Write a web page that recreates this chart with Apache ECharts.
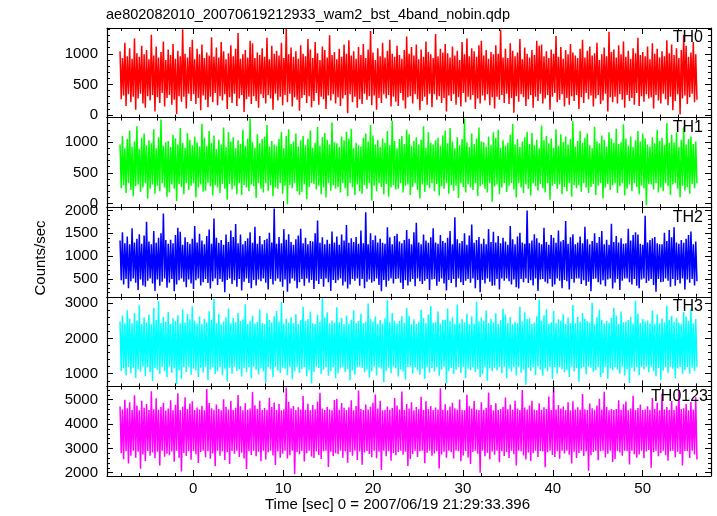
<!DOCTYPE html>
<html>
<head>
<meta charset="utf-8">
<script src="https://cdn.jsdelivr.net/npm/echarts@6/dist/echarts.min.js"></script>
<style>html,body{margin:0;padding:0;background:#fff}#c{width:717px;height:516px}</style>
</head>
<body>
<div id="c"></div>
<script>
// ---------------- data ----------------
const chartTitle = 'ae802082010_20070619212933_wam2_bst_4band_nobin.qdp';
const xTitle = 'Time [sec] 0 = 2007/06/19 21:29:33.396';
const yTitle = 'Counts/sec';
const bandNames = ['TH0', 'TH1', 'TH2', 'TH3', 'TH0123'];
const timeStart = -8.15;   // sec, first sample
const timeStep = 0.134;    // sec per sample (display resolution)
const xMajorTicks = [0, 10, 20, 30, 40, 50];
const yMajorTicks = [[0, 500, 1000], [0, 500, 1000], [500, 1000, 1500, 2000], [1000, 2000, 3000], [2000, 3000, 4000, 5000]];

const th0 = [
1040,260,930,320,1180,150,960,340,1090,210, 920,300,1250,90,1010,270,950,350,1130,190,
990,120,1060,310,910,240,1310,330,970,60, 1120,290,940,200,1030,360,1200,140,900,280,
1070,330,980,170,1160,250,920,20,1050,310, 960,220,1400,300,1000,110,940,350,1110,230,
1230,340,910,180,1080,280,990,80,1150,320, 930,250,1020,130,970,300,1270,210,950,360,
1100,160,940,310,1190,240,1040,340,910,100, 1010,290,1140,200,960,350,1080,150,1340,270,
920,330,990,50,1060,260,940,300,1210,180, 1170,310,930,230,1020,120,980,340,1090,280,
950,190,1260,330,910,270,1130,90,1000,350, 1050,240,970,300,1180,160,930,330,1410,210,
990,350,1100,140,950,290,1040,250,920,70, 1140,280,1000,330,960,200,1240,310,1070,130,
930,230,1190,360,1010,170,900,300,1120,260, 1060,100,940,320,1300,240,980,340,1030,190,
910,290,1080,150,950,270,1150,330,1000,30, 1220,340,970,210,1040,300,920,120,1110,260,
980,180,1160,350,930,250,1070,310,1370,160, 1020,320,900,90,1090,280,960,200,1180,340,
940,270,1050,330,1230,140,1000,300,950,220, 1130,150,980,360,920,240,1060,110,1280,290,
1000,310,1110,190,970,340,1150,260,910,80, 1070,230,950,300,1200,170,1030,350,990,130,
930,340,1320,250,960,310,1080,200,1020,280, 1160,60,1010,320,940,230,1120,340,970,170,
1050,290,900,140,1190,360,990,210,1250,300, 960,250,1090,330,1040,100,950,270,1140,190,
1210,320,970,240,1060,340,920,160,1030,290, 990,110,1140,300,1000,250,1390,330,940,200,
1080,350,930,180,1170,280,1050,40,960,310, 1020,220,1240,340,910,290,1100,150,1000,260,
940,330,1060,120,980,300,1210,230,1130,350, 1150,190,960,270,1040,330,930,90,1070,300,
1000,360,1290,210,950,250,1110,340,920,140, 1060,280,990,170,1160,310,1020,230,970,330,
930,100,1080,290,1230,200,940,360,1050,260, 1120,320,970,140,1010,270,1180,330,900,180,
990,240,1100,350,960,60,1360,290,1030,210, 1070,300,940,190,1140,340,990,250,1200,120,
950,330,1050,230,920,280,1090,170,1010,360, 1260,150,980,310,1030,220,960,340,1120,270,
910,290,1170,110,1000,330,1080,240,940,190, 1040,350,960,260,1220,160,1010,300,1150,80,
980,230,1090,340,930,10,1060,270,1310,320, 1130,180,950,290,1020,350,1190,210,990,250
];
const th1 = [
960,250,1100,300,900,170,1050,330,1190,220, 930,120,1010,280,1260,310,890,190,1070,260,
1140,330,950,80,1030,240,980,310,1210,160, 900,290,1080,200,1370,330,940,260,1000,110,
1020,180,920,310,1120,240,1060,40,960,320, 1230,270,990,150,910,330,1150,220,1040,290,
950,330,1090,100,1000,260,930,310,1300,190, 1070,210,940,340,1180,280,990,130,1110,300,
890,260,1040,170,960,320,1240,240,920,60, 1160,320,1010,230,1080,290,900,150,1030,330,
970,140,1200,300,940,260,1060,200,1390,310, 1000,280,910,90,1130,330,980,240,1050,180,
1090,330,1280,210,930,300,1020,120,960,260, 940,240,1050,330,1170,160,900,290,1100,-10,
1210,300,970,250,1010,330,1140,200,930,140, 1030,190,1100,310,950,70,1060,270,1190,330,
910,320,990,230,1250,290,940,150,1080,260, 1150,100,1040,330,960,210,1320,300,1000,240,
980,270,920,180,1090,330,1030,250,1170,120, 1060,330,1220,260,900,140,990,310,950,200,
930,160,1070,300,1140,240,1010,330,1280,50, 1110,290,960,200,1040,330,920,270,1060,150,
990,320,1180,110,950,260,1350,300,1020,230, 900,240,1050,330,1100,180,970,290,1200,310,
1130,140,940,270,1020,330,1080,220,960,80, 1040,310,1260,190,910,300,1160,250,990,330,
960,200,1030,320,1070,130,940,280,1110,240, 1190,330,980,160,1230,300,1010,210,900,290,
1080,90,950,330,1050,270,1380,180,1000,310, 920,260,1140,220,970,330,1060,120,1240,280,
1010,310,1000,240,930,180,1090,330,950,30, 1160,280,1070,310,1200,150,910,260,1030,330,
940,190,990,290,1120,330,1300,230,960,100, 1050,330,920,260,1010,170,1080,310,1170,240,
970,130,1150,330,950,280,1040,210,900,320, 1270,250,1030,180,1100,330,980,60,1060,290,
910,320,1210,240,940,310,1130,150,1000,270, 1090,200,960,330,1050,110,1340,300,930,250,
1020,300,1180,190,990,330,1070,260,1140,170, 950,270,900,320,1250,140,1010,290,980,330,
1110,80,1040,260,930,320,1160,220,1060,300, 990,330,1220,170,970,280,1000,330,1290,130,
1060,240,940,310,1090,200,920,330,1030,270, 1180,150,1010,290,1140,250,1060,-30,960,320,
930,310,1080,230,980,330,1200,180,1020,260, 1070,200,950,330,1310,280,990,140,1120,310,
1000,330,1160,240,920,100,1040,290,1250,210, 960,270,1050,160,1090,320,970,250,1010,330
];
const th2 = [
1340,470,1520,380,1280,500,1430,300,1260,450, 1610,510,1300,420,1380,260,1480,490,1270,360,
1450,330,1750,460,1320,510,1260,400,1550,240, 1290,490,1400,350,1500,440,1930,510,1350,310,
1270,420,1360,500,1280,230,1460,380,1620,470, 1530,510,1250,440,1410,320,1310,490,1270,400,
1380,280,1660,470,1300,510,1490,360,1340,430, 1260,500,1440,410,1580,290,1270,450,1820,510,
1400,370,1290,500,1350,440,1250,210,1470,480, 1310,510,1560,390,1420,470,1700,330,1280,500,
1470,250,1260,440,1330,510,1390,410,1520,300, 1290,480,1640,360,1270,490,1440,450,1260,510,
1350,420,1380,270,1510,500,1300,380,2040,460, 1270,510,1420,440,1280,330,1590,490,1360,220,
1480,400,1310,510,1250,460,1370,300,1450,430, 1600,500,1280,350,1400,510,1260,420,1330,480,
1320,280,1500,460,1780,390,1290,500,1410,330, 1260,510,1360,430,1270,240,1540,480,1300,410,
1430,470,1250,510,1470,360,1340,440,1680,290, 1290,380,1390,500,1310,460,1420,510,1270,350,
1560,500,1280,300,1960,440,1260,490,1500,420, 1350,450,1450,510,1300,370,1380,230,1290,480,
1270,330,1630,460,1410,510,1260,400,1440,500, 1490,510,1320,420,1280,280,1350,470,1570,360,
1380,440,1260,500,1520,340,1730,510,1300,450, 1260,390,1470,460,1340,500,1290,260,1410,490,
1610,500,1300,350,1270,440,1460,510,1330,400, 1290,250,1400,480,1550,410,1260,500,1850,320,
1370,510,1280,430,1330,370,1500,460,1250,500, 1450,420,1690,510,1290,300,1350,480,1420,210,
1270,480,1380,400,1260,510,1590,440,1310,350, 1530,360,1300,500,1440,270,1280,510,1400,460,
1320,510,1250,450,1660,380,1370,490,1260,320, 1430,290,1510,500,1300,430,1270,510,2000,410,
1280,470,1340,360,1480,510,1390,240,1290,490, 1260,500,1620,440,1310,400,1250,500,1460,330,
1400,380,1290,510,1560,460,1320,300,1350,480, 1770,450,1270,270,1410,500,1480,420,1260,510,
1300,510,1430,390,1280,470,1640,350,1370,440, 1260,230,1330,500,1500,510,1290,430,1420,380,
1550,470,1260,340,1360,490,1250,510,1710,290, 1310,420,1440,500,1300,260,1390,460,1270,510,
1280,510,1600,430,1340,380,1460,500,1520,350, 1470,300,1270,490,1250,510,1880,410,1300,460,
1350,500,1390,370,1420,220,1280,500,1260,430, 1260,440,1510,510,1330,460,1570,330,1410,500,
1630,350,1300,480,1270,400,1350,510,1290,270, 1380,490,1460,420,1540,500,1260,360,1320,450
];
const th3 = [
2480,1080,2650,1150,2420,950,2800,1190,2560,1010, 2430,1170,2720,880,2510,1120,2940,1060,2410,1200,
2590,930,2460,1180,2680,1040,2400,790,2870,1160, 2520,1110,3060,990,2440,1200,2610,1070,2470,900,
2750,1190,2410,1020,2570,1150,2490,700,2660,1100, 2430,860,2830,1180,2450,1050,2700,1200,2540,970,
2910,1140,2500,1090,2420,910,2620,1170,2410,1030, 2560,1200,2460,820,2770,1120,2530,1180,3120,990,
2440,1060,2690,1190,2400,960,2480,1140,2600,780, 2850,1170,2430,1000,2580,1200,2460,1080,2730,1130,
2490,920,2540,1160,2970,1040,2410,1190,2500,870, 2640,1200,2420,1110,2470,980,2820,1150,2440,1060,
2410,750,2710,1180,2530,1130,2450,900,2630,1200, 2780,1090,2480,1020,3030,1170,2420,1140,2560,960,
2450,1190,2600,840,2440,1070,2690,1200,2410,1010, 2520,1130,2900,1180,2490,930,2550,1100,2760,720,
2430,1050,2410,1200,2670,1160,2470,990,3150,1120, 2590,1180,2740,940,2420,1080,2510,1190,2450,870,
2880,1010,2460,1150,2580,1200,2400,1050,2650,1130, 2410,810,2530,1090,2800,970,2440,1180,2490,1200,
2700,1160,2430,1040,2470,1120,2990,890,2560,1070, 2480,1200,2620,950,2410,1190,2520,1140,2430,760,
2570,1080,3080,1170,2460,1010,2720,1200,2500,1150, 2420,920,2490,1120,2630,1060,2450,830,2860,1190,
2640,1200,2400,1000,2540,1180,2410,1100,2470,970, 2810,1140,2580,860,2440,1200,2680,1030,2920,1160,
2450,1060,2470,1190,2760,940,2420,1120,2530,1200, 2530,730,2850,1080,2490,1170,2600,990,2410,1110,
2960,1190,2430,1020,2550,1200,2460,880,2700,1150, 2400,1100,2620,1180,2420,1050,3040,1130,2480,910,
2590,990,2500,1200,2790,800,2440,1160,2560,1070, 2460,1170,2710,1090,2410,1190,2520,1010,2840,1200,
2680,870,2440,1140,2610,1060,2400,1180,2470,950, 2430,1200,2900,1030,2480,1120,2740,690,2550,1170,
2570,1080,2410,1190,2450,960,2630,1200,3100,1110, 2500,940,2660,1150,2830,1070,2420,1190,2460,850,
2780,1190,2430,1000,2540,1180,2500,1130,2690,1040, 2410,1110,2590,910,2440,1200,2950,1060,2430,1160,
2620,770,2470,1140,2720,1190,2560,980,2490,1200, 2450,1170,3010,1050,2400,1100,2600,1180,2810,900,
2530,1020,2420,1200,2490,860,2440,1150,2580,1090, 2870,1180,2650,1110,2410,1000,2760,1200,2460,950,
2480,1130,2520,740,2610,1170,2420,1060,3070,1190, 2700,960,2440,1190,2550,1120,2470,1200,2510,1040,
2430,1200,2790,1070,2400,930,2680,1160,2440,820, 2560,1090,2460,1180,2930,1030,2520,1200,2640,1140,
2470,870,2580,1150,2450,1190,2410,990,2750,1100, 2620,1190,2500,1000,2840,1170,2430,1080,2550,1200
];
const th0123 = [
4720,2800,4600,2550,5000,2880,4650,2380,4890,2700, 4580,2900,5180,2620,4760,2860,4560,2160,4950,2750,
4670,2480,4820,2890,4570,2700,5350,2830,4610,2590, 5060,2860,4590,2300,4700,2900,4870,2660,4550,2780,
4640,2720,4980,2870,4560,2450,4790,2900,5260,2610, 4580,2050,4710,2810,5100,2690,4620,2880,4840,2530,
4930,2890,4570,2760,4680,2400,4600,2850,4750,2900, 4560,2640,5440,2880,4860,2570,4650,2790,4590,2270,
4800,2900,4620,2700,4560,2870,5020,2520,4710,2840, 4600,2360,4940,2890,4580,2780,4670,2900,5190,2650,
4730,2820,4560,2580,4850,2150,4590,2880,4640,2730, 5310,2900,4770,2680,4620,2860,4960,2470,4570,2900,
4660,2540,4590,2840,5080,2900,4700,2710,4880,2320, 4580,2870,4820,2620,4560,2780,4610,2900,5500,2580,
4910,2720,4650,2900,4740,1950,4570,2850,4690,2760, 4600,2890,5150,2460,4580,2800,4830,2900,4560,2670,
4780,2600,4610,2870,4920,2730,5280,2560,4640,2880, 4570,2900,4700,2240,4600,2860,4560,2690,4990,2800,
5040,2760,4590,2900,4860,2620,4670,2880,4580,2410, 4690,2850,4980,2700,4560,2900,4740,2520,5380,2870,
4620,2330,4570,2830,4800,2890,4600,2770,4710,2640, 4870,2900,5210,2590,4640,2860,4950,2110,4560,2900,
4580,2680,4720,2880,4590,2490,4660,2810,5070,2720, 4760,2850,4600,2900,5330,2740,4570,2860,4820,2280,
4640,2560,4890,2770,4560,2900,4700,2650,4610,2880, 5120,2900,4580,2390,4930,2820,4620,2900,4740,2700,
4570,2790,4680,2880,4600,2170,5470,2750,4590,2860, 4810,2620,4560,2900,4720,2840,4870,2580,4650,2900,
4600,2880,5010,2470,4580,2710,4560,2890,5200,2630, 4730,2360,4640,2850,4940,2900,4600,2780,4570,2000,
4890,2900,4590,2680,4660,2820,5290,2550,4780,2870, 4560,2740,4850,2900,4570,2430,4620,2880,4700,2690,
5090,2850,4610,2600,4800,2900,4590,2760,4960,2300, 4640,2900,4570,2880,5400,2710,4680,2540,4600,2830,
4760,2480,4960,2800,4600,2900,4560,2650,4850,2890, 4580,2870,4690,2220,4620,2840,5130,2900,4570,2730,
5520,2650,4600,2880,4780,2570,4640,2900,4720,2790, 4570,2900,4890,2740,4560,2380,4930,2860,4600,2600,
4690,2810,4580,2900,5230,2690,4610,2870,4570,2080, 4840,2720,4650,2850,4590,2900,4760,2510,5040,2880,
4600,2900,5320,2630,4700,2780,4560,2900,4620,2440, 4570,2560,4620,2890,4980,2830,4590,2700,4810,2900,
4920,2880,4560,2340,4640,2900,5160,2760,4580,2620, 4660,2750,4800,2900,4570,2590,4600,2870,4730,2930,
4590,2200,5070,2840,4620,2900,4870,2680,4560,2810, 5250,2900,4600,2720,4700,2490,4580,2880,4940,2900,
4570,2640,4750,2860,5410,2770,4620,2300,4650,2890, 4830,2880,4560,2610,4910,2900,4600,2750,5100,2540
];
const bandValues = [th0, th1, th2, th3, th0123];

// ---------------- layout / style ----------------
const colors = ['#ff0000', '#00ff00', '#0000ff', '#00ffff', '#ff00ff'];
const yMin = [-40, -60, 110, 640, 1865];
const yMax = [1420, 1400, 2070, 3180, 5545];
const yMinorStep = [100, 100, 100, 200, 200];
const X_MIN = -9.6, X_MAX = 57.6, X_MINOR_STEP = 2;
const FONT = '"Liberation Sans", Arial, Helvetica, sans-serif';
const GRID_LEFT = 107, GRID_RIGHT = 6, GRID_TOP0 = 28, PANEL_H = 89.6;

function range(a, b, s) { const r = []; for (let v = a; v <= b + 1e-9; v += s) r.push(Math.round(v * 1000) / 1000); return r; }
const xMinorTicks = range(Math.ceil(X_MIN / X_MINOR_STEP) * X_MINOR_STEP, X_MAX, X_MINOR_STEP);
const plain = v => String(v);

const grids = [], xAxes = [], yAxes = [], series = [], graphics = [];
const black = '#000';
for (let i = 0; i < 5; i++) {
  const top = GRID_TOP0 + i * PANEL_H;
  grids.push({ left: GRID_LEFT, right: GRID_RIGHT, top: top, height: PANEL_H, containLabel: false });
  const last = i === 4;
  const mkX = (pos, major) => ({
    type: 'value', gridIndex: i, position: pos, min: X_MIN, max: X_MAX,
    axisLine: { show: major, onZero: false, lineStyle: { color: black, width: 1.2 } },
    axisTick: { show: true, inside: true, length: major ? 6 : 3, customValues: major ? xMajorTicks : xMinorTicks, lineStyle: { color: black, width: 1 } },
    axisLabel: { show: last && pos === 'bottom' && major, customValues: xMajorTicks, formatter: plain, color: black, fontSize: 15, fontFamily: FONT, margin: 5 },
    splitLine: { show: false }, z: 5
  });
  xAxes.push(mkX('bottom', true), mkX('bottom', false), mkX('top', true), mkX('top', false));
  const yMinor = range(Math.ceil(yMin[i] / yMinorStep[i]) * yMinorStep[i], yMax[i], yMinorStep[i]);
  const mkY = (pos, major) => ({
    type: 'value', gridIndex: i, position: pos, min: yMin[i], max: yMax[i],
    axisLine: { show: major, onZero: false, lineStyle: { color: black, width: 1.2 } },
    axisTick: { show: true, inside: true, length: major ? 6 : 3, customValues: major ? yMajorTicks[i] : yMinor, lineStyle: { color: black, width: 1 } },
    axisLabel: { show: pos === 'left' && major, customValues: yMajorTicks[i], formatter: plain, color: black, fontSize: 15, fontFamily: FONT, margin: 9 },
    splitLine: { show: false }, z: 5
  });
  yAxes.push(mkY('left', true), mkY('left', false), mkY('right', true), mkY('right', false));
  series.push({
    name: bandNames[i], type: 'line', step: 'end', xAxisIndex: 4 * i, yAxisIndex: 4 * i,
    data: bandValues[i].map((v, k) => [timeStart + k * timeStep, v]),
    showSymbol: false, symbol: 'none', silent: true, animation: false,
    lineStyle: { color: colors[i], width: 1.5 }, itemStyle: { color: colors[i] }, z: 2
  });
  graphics.push({
    type: 'text', x: i === 4 ? 708 : 703, y: top + 2, z: 10,
    style: { text: bandNames[i], fill: black, font: '16px ' + FONT, align: 'right', verticalAlign: 'top' }
  });
}
graphics.push({ type: 'text', x: 106, y: 7, style: { text: chartTitle, fill: black, font: '14.5px ' + FONT, align: 'left', verticalAlign: 'top' } });
graphics.push({ type: 'text', x: 397.5, y: 505, style: { text: xTitle, fill: black, font: '15px ' + FONT, align: 'center', verticalAlign: 'middle' } });
graphics.push({ type: 'text', x: 41, y: 258, rotation: Math.PI / 2, style: { text: yTitle, fill: black, font: '15px ' + FONT, align: 'center', verticalAlign: 'middle' } });

const chart = echarts.init(document.getElementById('c'), null, { renderer: 'canvas' });
chart.setOption({
  backgroundColor: '#fff', animation: false,
  grid: grids, xAxis: xAxes, yAxis: yAxes, series: series, graphic: graphics
});
</script>
</body>
</html>
